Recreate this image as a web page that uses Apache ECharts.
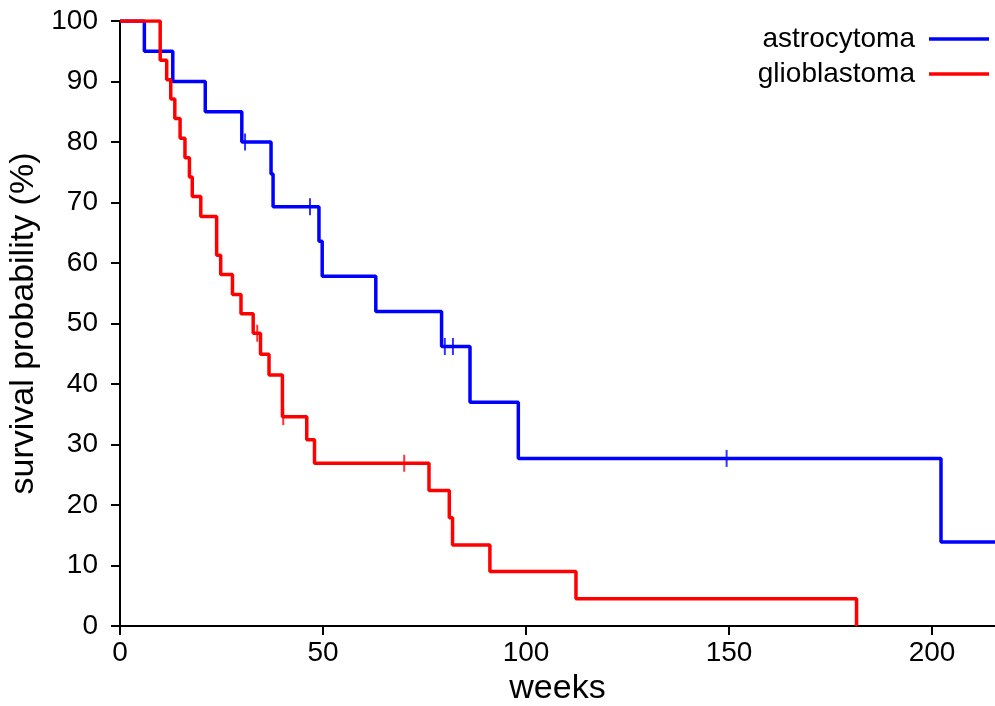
<!DOCTYPE html>
<html>
<head>
<meta charset="utf-8">
<script src="https://cdn.jsdelivr.net/npm/echarts@6/dist/echarts.min.js"></script>
<style>
  html, body { margin: 0; padding: 0; background: #fff; }
  #chart { width: 995px; height: 706px; }
</style>
</head>
<body>
<div id="chart"></div>
<script>
// Kaplan-Meier steps: [week, survival %] after each event
const astroSteps = [
    [0, 100], [6, 95], [13, 90], [21, 85], [30, 80], [37.2, 74.7], [37.7, 69.3],
    [49, 63.6], [49.8, 57.8], [63, 52.0], [79.2, 46.2], [86.2, 37.0], [98.1, 27.7],
    [202.2, 13.9], [215.5, 13.9]
];
const astroCensored = [[30.8, 80], [46.8, 69.3], [80, 46.2], [82, 46.2], [149.4, 27.7]];

const glioSteps = [
    [0, 100], [9.9, 93.5], [11.5, 90.3], [12.5, 87.1], [13.5, 83.9], [14.8, 80.6],
    [16, 77.4], [17.1, 74.2], [17.8, 71.0], [19.9, 67.7], [23.8, 61.3], [24.8, 58.1],
    [27.7, 54.8], [29.8, 51.6], [32.8, 48.4], [34.6, 44.9], [36.7, 41.5], [40.0, 34.6],
    [46.0, 30.8], [47.9, 26.9], [76.1, 22.4], [81.1, 17.9], [81.9, 13.4], [91.1, 9.0],
    [112.3, 4.5], [181.4, 0]
];
const glioCensored = [[33.8, 48.4], [40.2, 34.6], [70.0, 26.9]];

const xTicks = [0, 50, 100, 150, 200];

const chart = echarts.init(document.getElementById("chart"));
const font = "Liberation Sans, Arial, sans-serif";

const stepSeries = (name, data, color, z) => ({
    name: name,
    type: "line",
    step: "end",
    data: data,
    symbol: "none",
    z: z,
    lineStyle: { color: color, width: 3.5 },
    itemStyle: { color: color }
});

const censorSeries = (name, data, color, z) => ({
    name: name,
    type: "scatter",
    data: data,
    symbol: "rect",
    symbolSize: [2, 17],
    z: z,
    itemStyle: { color: color }
});

chart.setOption({
    animation: false,
    backgroundColor: "#fff",
    textStyle: { fontFamily: font },
    grid: { left: 120, right: 0, top: 21, bottom: 80, outerBoundsMode: "none", containLabel: false },
    legend: {
        data: ["astrocytoma", "glioblastoma"],
        orient: "vertical",
        right: 1,
        top: 20,
        align: "right",
        icon: "rect",
        itemWidth: 60,
        itemHeight: 3.5,
        itemGap: 7,
        textStyle: { fontSize: 28, color: "#000", fontFamily: font, lineHeight: 24, padding: [0, 9, 0, 0] }
    },
    xAxis: {
        type: "value",
        min: 0,
        max: 215.5,
        name: "weeks",
        nameLocation: "middle",
        nameGap: 44,
        nameTextStyle: { fontSize: 34, color: "#000", fontFamily: font },
        splitLine: { show: false },
        axisLine: { show: true, lineStyle: { color: "#000", width: 2 } },
        axisTick: { show: true, length: 9, lineStyle: { color: "#000", width: 2 }, customValues: xTicks },
        axisLabel: { fontSize: 28, color: "#000", margin: 13, fontFamily: font, customValues: xTicks }
    },
    yAxis: {
        type: "value",
        min: 0,
        max: 100,
        interval: 10,
        name: "survival probability (%)",
        nameLocation: "middle",
        nameGap: 64,
        nameTextStyle: { fontSize: 34, color: "#000", fontFamily: font },
        splitLine: { show: false },
        axisLine: { show: true, lineStyle: { color: "#000", width: 2 } },
        axisTick: { show: true, length: 9, lineStyle: { color: "#000", width: 2 } },
        axisLabel: { fontSize: 28, color: "#000", margin: 22, fontFamily: font }
    },
    series: [
        stepSeries("astrocytoma", astroSteps, "#0000ff", 2),
        stepSeries("glioblastoma", glioSteps, "#ff0000", 3),
        censorSeries("astrocytoma censored", astroCensored, "#0000ff", 2),
        censorSeries("glioblastoma censored", glioCensored, "#ff0000", 3)
    ]
});

window.addEventListener("resize", () => chart.resize());
</script>
</body>
</html>
